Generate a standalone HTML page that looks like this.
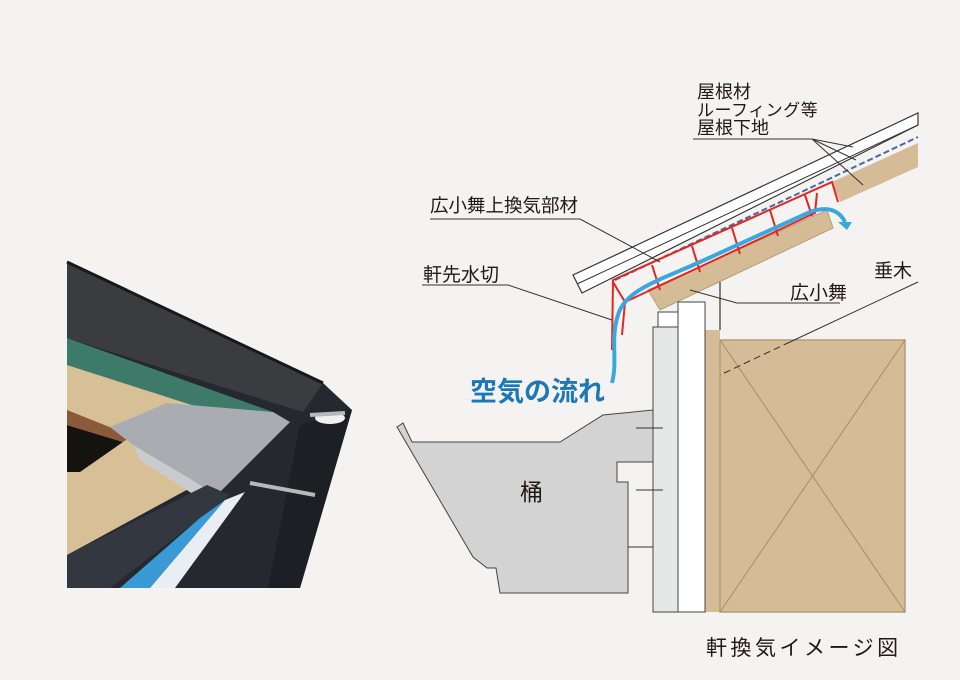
<!DOCTYPE html>
<html><head><meta charset="utf-8"><style>
html,body{margin:0;padding:0;background:#f4f3f1;}
svg{display:block}
text{font-family:"Liberation Sans","Noto Sans CJK JP",sans-serif;fill:#231815}
</style></head><body>
<svg width="960" height="680" viewBox="0 0 960 680" xmlns="http://www.w3.org/2000/svg">
<rect width="960" height="680" fill="#f4f3f1"/>
<!-- Photo -->
<polygon points="67,262 323,383 352,410 300,588 67,588" fill="#25282e"/>
<polygon points="67,360 262,427 240,455 205,480 67,555" fill="#d8c096"/>
<polygon points="67,425 123,442 80,472 67,472" fill="#15130f"/>
<polygon points="67,410 67,425 123,442 132,436" fill="#8a5a3a"/>
<polygon points="67,338 273,412 260,427 67,365" fill="#3e7a6a"/>
<polygon points="67,262 323,383 303,412 200,380 67,338" fill="#3a3c40"/>
<line x1="67" y1="262" x2="323" y2="383" stroke="#16181c" stroke-width="3"/>
<polygon points="110,427 167,403 273,412 290,422 217,495 133,445" fill="#a9adb1"/>
<polygon points="133,445 217,495 210,505 140,460" fill="#c9cccf"/>
<polygon points="67,555 207,485 230,495 110,588 67,588" fill="#33373f"/>
<polygon points="200,518 225,500 150,588 120,588" fill="#3a9ad6"/>
<polygon points="225,500 245,492 175,588 150,588" fill="#e9eef2"/>
<polygon points="300,425 352,410 300,588 268,588" fill="#1c1f24"/>
<ellipse cx="330" cy="418" rx="15" ry="6" fill="#f0f0f0"/>
<line x1="250" y1="483" x2="315" y2="495" stroke="#b9b9b9" stroke-width="4"/>
<line x1="310" y1="415" x2="345" y2="413" stroke="#b9b9b9" stroke-width="4"/>

<!-- Rafter tan boards -->
<polygon points="832,182 918,143 918,167 840,202" fill="#d5bc96"/>
<polygon points="648,290 827,210 833,228 660,310" fill="#d5bc96" stroke="#b59d78" stroke-width="1"/>
<line x1="720" y1="282" x2="720" y2="330" stroke="#333" stroke-width="1.2"/>
<!-- roof lines -->
<polygon points="573,275 918,113 918,125 582,293" fill="#fff" stroke="#333" stroke-width="1.2"/>
<line x1="577" y1="284" x2="918" y2="125" stroke="#333" stroke-width="1"/>
<line x1="615" y1="280" x2="918" y2="137" stroke="#4a67a8" stroke-width="2" stroke-dasharray="6,3"/>
<!-- red vent member -->
<g stroke="#e3261f" stroke-width="2" fill="none">
<polyline points="612,350 613,280 832,182 838,202"/>
<polyline points="622,335 625,302 815,213 817,193"/>
<line x1="652" y1="265" x2="660" y2="290"/>
<line x1="692" y1="246" x2="700" y2="272"/>
<line x1="732" y1="228" x2="740" y2="254"/>
<line x1="770" y1="210" x2="778" y2="236"/>
<line x1="805" y1="195" x2="812" y2="216"/>
<line x1="613" y1="282" x2="625" y2="302"/>
</g>
<!-- air flow -->
<path d="M612,383 C618,360 610,340 618,315 C625,290 660,280 700,262 L810,212 C830,205 840,212 845,222" stroke="#3aa8dc" stroke-width="4" fill="none"/>
<polygon points="838,222 852,222 847,230" fill="#3aa8dc"/>
<!-- wall -->
<rect x="705" y="330" width="15" height="282" fill="#d5bc96"/>
<rect x="720" y="340" width="185" height="272" fill="#d5bc96" stroke="#b59d78" stroke-width="1.5"/>
<line x1="720" y1="340" x2="905" y2="612" stroke="#a88c68" stroke-width="1"/>
<line x1="905" y1="340" x2="720" y2="612" stroke="#a88c68" stroke-width="1"/>
<rect x="678" y="302" width="27" height="310" fill="#fff" stroke="#444" stroke-width="1"/>
<rect x="653" y="327" width="25" height="285" fill="#e6e8e8" stroke="#444" stroke-width="1"/>
<rect x="658" y="312" width="20" height="15" fill="#fff" stroke="#444" stroke-width="1"/>
<!-- gutter -->
<polygon points="397,427 403,423 412,442 560,442 603,415 653,410 653,462 617,462 617,482 628,482 628,593 500,593 496,568 487,568 473,557" fill="#d3d3d3" stroke="#444" stroke-width="1"/>
<line x1="628" y1="547" x2="653" y2="547" stroke="#333"/>
<line x1="636" y1="428" x2="663" y2="428" stroke="#333"/>
<line x1="636" y1="490" x2="663" y2="490" stroke="#333"/>
<text x="520" y="500" font-size="23">桶</text>
<!-- labels -->
<text x="470" y="401" font-size="27" font-weight="bold" style="fill:#1d78b8">空気の流れ</text>
<text x="697" y="98" font-size="18">屋根材</text>
<text x="697" y="116" font-size="17" letter-spacing="0.5">ルーフィング等</text>
<text x="697" y="134" font-size="18">屋根下地</text>
<g stroke="#333" stroke-width="1" fill="none">
<polyline points="693,139 812,139 853,147"/>
<line x1="812" y1="139" x2="856" y2="160"/>
<line x1="812" y1="139" x2="863" y2="185"/>
<polyline points="430,219 580,219 660,262"/>
<polyline points="422,285 508,285 612,320"/>
<polyline points="690,290 737,303 840,303"/>
<line x1="918" y1="282" x2="790" y2="342"/>
<line x1="790" y1="342" x2="720" y2="375" stroke-dasharray="7,4"/>
</g>
<text x="430" y="212" font-size="18.5">広小舞上換気部材</text>
<text x="423" y="281" font-size="19">軒先水切</text>
<text x="790" y="299" font-size="19">広小舞</text>
<text x="874" y="277" font-size="19">垂木</text>
<text x="706" y="655" font-size="21" letter-spacing="3.5">軒換気イメージ図</text>
</svg>
</body></html>
